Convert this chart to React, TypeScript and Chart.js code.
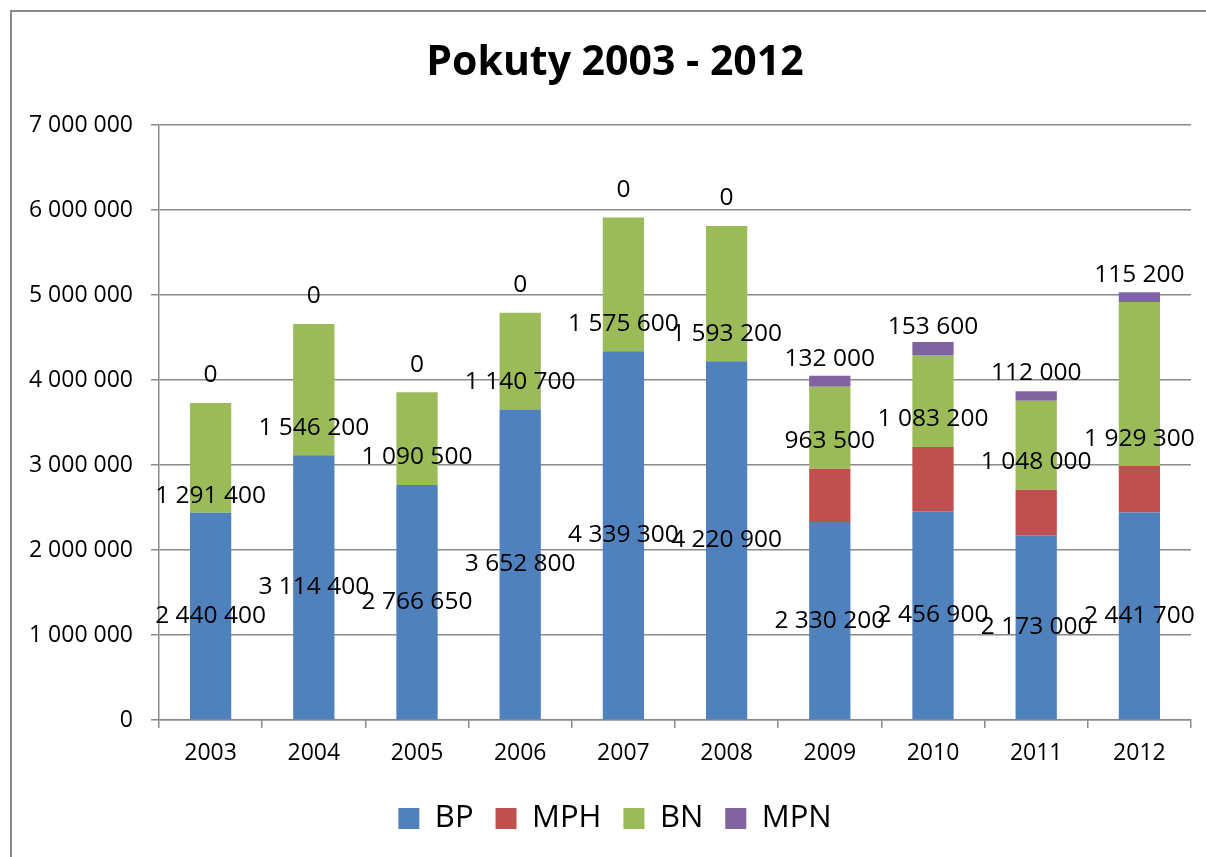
import React, { useEffect, useRef } from 'react';
import { Chart, registerables } from 'chart.js';

Chart.register(...registerables);

const years = ['2003', '2004', '2005', '2006', '2007', '2008', '2009', '2010', '2011', '2012'];
const bpValues = [2440400, 3114400, 2766650, 3652800, 4339300, 4220900, 2330200, 2456900, 2173000, 2441700];
const mphValues = [0, 0, 0, 0, 0, 0, 627000, 756000, 537000, 547000];
const bnValues = [1291400, 1546200, 1090500, 1140700, 1575600, 1593200, 963500, 1083200, 1048000, 1929300];
const mpnValues = [0, 0, 0, 0, 0, 0, 132000, 153600, 112000, 115200];
const seriesNames = ['BP', 'MPH', 'BN', 'MPN'];
const seriesColors = ['#4F81BD', '#C0504D', '#9BBB59', '#8064A2'];
const yMax = 7000000;
const yStep = 1000000;

const FONT = "'Open Sans', sans-serif";

function fmt(v: number): string {
  return Math.round(v).toString().replace(/\B(?=(\d{3})+(?!\d))/g, ' ');
}

const framePlugin = {
  id: 'frame',
  beforeDraw(chart: any) {
    const ctx = chart.ctx;
    ctx.save();
    ctx.fillStyle = '#ffffff';
    ctx.fillRect(0, 0, chart.width, chart.height);
    ctx.strokeStyle = '#8a8a8a';
    ctx.lineWidth = 2;
    ctx.beginPath();
    ctx.moveTo(11, chart.height);
    ctx.lineTo(11, 11);
    ctx.lineTo(chart.width, 11);
    ctx.stroke();
    ctx.restore();
  },
};

// which series get labels and how they are anchored
const labelPlugin = {
  id: 'segLabels',
  afterDatasetsDraw(chart: any) {
    const ctx = chart.ctx;
    ctx.save();
    ctx.font = `24.5px ${FONT}`;
    ctx.fillStyle = '#000000';
    ctx.textAlign = 'center';
    ctx.textBaseline = 'middle';
    chart.data.datasets.forEach((ds: any, di: number) => {
      if (di === 1) return;
      const meta = chart.getDatasetMeta(di);
      meta.data.forEach((el: any, j: number) => {
        const p = el.getProps(['x', 'y', 'base'], true);
        const v = ds.data[j];
        let y: number;
        if (di === 0) {
          y = (p.y + p.base) / 2;
        } else {
          y = p.base - 27.5;
          if (di === 2 && j === 0) y += 11;
        }
        ctx.fillText(fmt(v), p.x, y);
      });
    });
    ctx.restore();
  },
};

export default function App() {
  const ref = useRef<HTMLCanvasElement | null>(null);

  useEffect(() => {
    if (!ref.current) return;
    const data = [bpValues, mphValues, bnValues, mpnValues];
    const chart = new Chart(ref.current, {
      type: 'bar',
      data: {
        labels: years,
        datasets: seriesNames.map((name, i) => ({
          label: name,
          data: data[i],
          backgroundColor: seriesColors[i],
          borderWidth: 0,
          barPercentage: 0.4,
          categoryPercentage: 1.0,
        })),
      },
      options: {
        responsive: false,
        animation: false,
        layout: { padding: { left: 10, right: 0, top: 10, bottom: 13 } },
        plugins: {
          title: {
            display: true,
            text: 'Pokuty 2003 - 2012',
            color: '#000000',
            font: { family: FONT, size: 41, weight: 'bold', lineHeight: 1.2 },
            padding: { top: 29, bottom: 37 },
          },
          legend: {
            position: 'bottom',
            labels: {
              boxWidth: 21,
              boxHeight: 21,
              padding: 22,
              color: '#000000',
              font: { family: FONT, size: 31 },
            },
          },
          tooltip: { enabled: false },
        },
        scales: {
          x: {
            stacked: true,
            grid: {
              display: true,
              drawOnChartArea: false,
              drawTicks: true,
              tickLength: 8,
              color: '#8a8a8a',
              lineWidth: 1.5,
              offset: true,
            },
            border: { display: true, color: '#8a8a8a', width: 1.5 },
            ticks: { color: '#000000', font: { family: FONT, size: 23 }, padding: 12 },
            afterFit: (s: any) => { s.height = 61; },
          },
          y: {
            stacked: true,
            min: 0,
            max: yMax,
            ticks: {
              stepSize: yStep,
              color: '#000000',
              font: { family: FONT, size: 23 },
              padding: 18,
              callback: (v: any) => fmt(Number(v)),
            },
            grid: { color: '#8a8a8a', lineWidth: 1.5, drawTicks: true, tickLength: 8 },
            border: { display: true, color: '#8a8a8a', width: 1.5 },
            afterFit: (s: any) => { s.width = 149; },
          },
          yRight: {
            type: 'linear',
            position: 'right',
            display: true,
            grid: { display: false, drawTicks: false },
            border: { display: false },
            ticks: { display: false },
            afterFit: (s: any) => { s.width = 29; },
          },
        },
      } as any,
      plugins: [framePlugin, labelPlugin],
    });
    return () => chart.destroy();
  }, []);

  return (
    <div style={{ position: 'absolute', left: 0, top: 0, width: 1206, height: 857, overflow: 'hidden', background: '#fff' }}>
      <canvas ref={ref} width={1220} height={857} style={{ display: 'block' }} />
    </div>
  );
}
